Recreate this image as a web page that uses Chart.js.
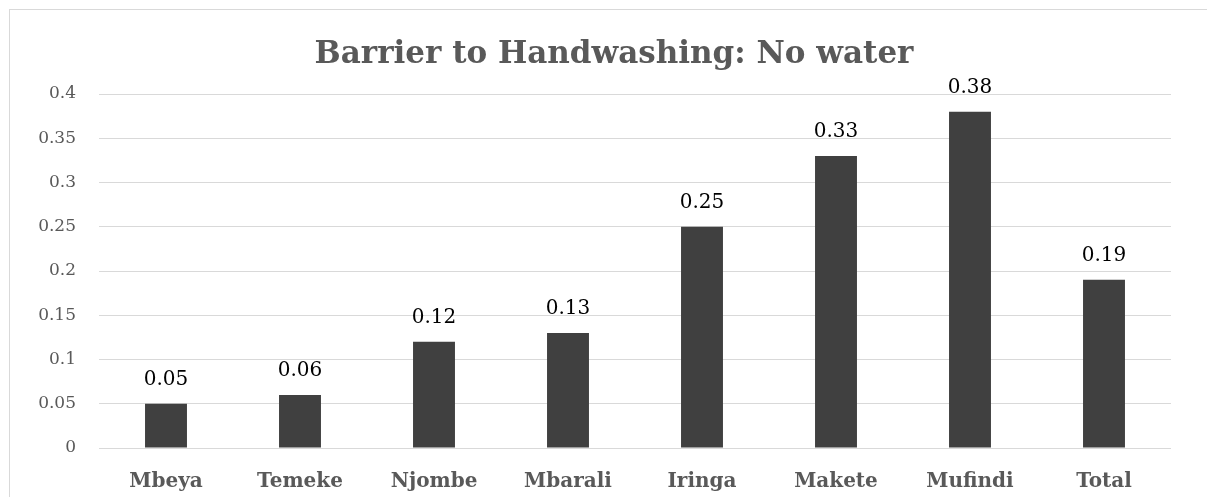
<!DOCTYPE html>
<html>
<head>
<meta charset="utf-8">
<script src="https://cdn.jsdelivr.net/npm/chart.js@4.4.1/dist/chart.umd.min.js"></script>
<style>
  html, body { margin: 0; padding: 0; background: #fff; overflow: hidden; }
  #wrap { position: absolute; left: 0; top: 0; width: 1207px; height: 497px; }
  #frame { position: absolute; left: 9px; top: 9px; width: 1300px; height: 600px; border: 1px solid #d9d9d9; pointer-events: none; }
</style>
</head>
<body>
<div id="wrap"><canvas id="barchart"></canvas></div>
<div id="frame"></div>
<script>
// chart data
const districts = ["Mbeya", "Temeke", "Njombe", "Mbarali", "Iringa", "Makete", "Mufindi", "Total"];
const noWater = [0.05, 0.06, 0.12, 0.13, 0.25, 0.33, 0.38, 0.19];
const chartTitle = "Barrier to Handwashing: No water";

const fontFamily = "'DejaVu Serif', serif";

// title, drawn a bit right of the canvas centre like the original
const titleText = {
  id: "titleText",
  afterDraw(chart) {
    const ctx = chart.ctx;
    ctx.save();
    ctx.font = "bold 31px " + fontFamily;
    ctx.fillStyle = "#595959";
    ctx.textAlign = "center";
    ctx.textBaseline = "alphabetic";
    ctx.fillText(chartTitle, 614, 63);
    ctx.restore();
  }
};

// draws the value above each bar
const valueLabels = {
  id: "valueLabels",
  afterDatasetsDraw(chart) {
    const ctx = chart.ctx;
    const meta = chart.getDatasetMeta(0);
    ctx.save();
    ctx.font = "20px " + fontFamily;
    ctx.fillStyle = "#000";
    ctx.textAlign = "center";
    ctx.textBaseline = "alphabetic";
    meta.data.forEach((bar, i) => {
      ctx.fillText(String(noWater[i]), bar.x, bar.y - 19);
    });
    ctx.restore();
  }
};

let ctx = document.getElementById("barchart").getContext("2d");

let chart = new Chart(ctx, {
  type: "bar",
  data: {
    labels: districts,
    datasets: [
      {
        label: "No water",
        data: noWater,
        backgroundColor: "#404040",
        borderWidth: 0,
        categoryPercentage: 1.0,
        barPercentage: 0.313,
      },
    ],
  },
  options: {
    responsive: true,
    maintainAspectRatio: false,
    animation: false,
    layout: { padding: { left: 0, right: 36, top: 94, bottom: 0 } },
    plugins: {
      legend: { display: false },
      tooltip: { enabled: false },
      title: { display: false },
    },
    scales: {
      x: {
        grid: { display: false, drawTicks: false },
        border: { display: false },
        ticks: {
          color: "#595959",
          font: { family: fontFamily, size: 20, weight: "bold" },
          padding: 22,
          maxRotation: 0,
        },
        afterFit(scale) { scale.height = 49; },
      },
      y: {
        min: 0,
        max: 0.4,
        grid: { color: "#d9d9d9", lineWidth: 1, drawTicks: false },
        border: { display: false },
        ticks: {
          stepSize: 0.05,
          color: "#595959",
          font: { family: fontFamily, size: 17 },
          padding: 23,
          callback: (v) => String(+v.toFixed(2)),
        },
        afterFit(scale) { scale.width = 99; },
      },
    },
  },
  plugins: [valueLabels, titleText],
});
</script>
</body>
</html>
